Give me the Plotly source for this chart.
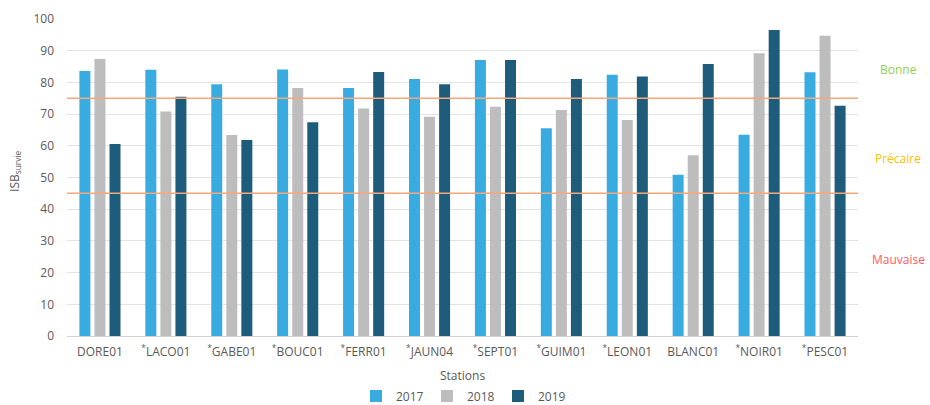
import plotly.graph_objects as go

# Stations (asterisk marks flagged stations)
stations = ["DORE01", "<sup>*</sup>LACO01", "<sup>*</sup>GABE01", "<sup>*</sup>BOUC01",
            "<sup>*</sup>FERR01", "<sup>*</sup>JAUN04", "<sup>*</sup>SEPT01", "<sup>*</sup>GUIM01",
            "<sup>*</sup>LEON01", "BLANC01", "<sup>*</sup>NOIR01", "<sup>*</sup>PESC01"]

isb_2017 = [83.6, 84.0, 79.4, 84.1, 78.2, 81.1, 87.1, 65.5, 82.4, 50.9, 63.5, 83.2]
isb_2018 = [87.4, 70.8, 63.4, 78.2, 71.8, 69.2, 72.3, 71.3, 68.1, 57.0, 89.2, 94.7]
isb_2019 = [60.6, 75.5, 61.8, 67.4, 83.3, 79.4, 87.1, 81.1, 81.9, 85.8, 96.5, 72.6]

years = ["2017", "2018", "2019"]
colors = ["#38ABE0", "#BDBDBD", "#1E5C7B"]

# Class thresholds and labels
thresholds = [75, 45]
class_labels = ["Bonne", "Précaire", "Mauvaise"]
class_label_y = [84, 56, 24]
class_colors = ["#92D050", "#FFC000", "#FF5B5B"]

font_family = "Open Sans, Noto Sans, sans-serif"
text_gray = "#595959"

fig = go.Figure()
for year, vals, col in zip(years, [isb_2017, isb_2018, isb_2019], colors):
    fig.add_trace(go.Bar(x=stations, y=vals, name=year, marker_color=col,
                         marker_line_width=0))

for t in thresholds:
    fig.add_shape(type="line", xref="paper", yref="y", x0=0, x1=1, y0=t, y1=t,
                  line=dict(color="#F7A77A", width=1.5), layer="above")

for lab, yy, col in zip(class_labels, class_label_y, class_colors):
    fig.add_annotation(text=lab, xref="paper", yref="y", x=1.051, y=yy,
                       xanchor="center", yanchor="middle", showarrow=False,
                       font=dict(color=col, size=12, family=font_family))

fig.add_annotation(text="ISB<sub>survie</sub>", xref="paper", yref="paper",
                   x=-0.066, y=0.52, textangle=-90, showarrow=False,
                   xanchor="center", yanchor="middle",
                   font=dict(color=text_gray, size=12, family=font_family))

fig.add_annotation(text="Stations", xref="paper", yref="paper",
                   x=0.5, y=-0.125, showarrow=False,
                   xanchor="center", yanchor="middle",
                   font=dict(color=text_gray, size=12, family=font_family))

fig.update_layout(
    width=930, height=405,
    margin=dict(l=67, r=72, t=19, b=69, autoexpand=False),
    plot_bgcolor="white", paper_bgcolor="white",
    barmode="group", bargap=0.315, bargroupgap=0.27,
    font=dict(family=font_family, color=text_gray, size=12),
    showlegend=True,
    legend=dict(orientation="h", x=0.5, xanchor="center",
                yref="container", y=0.022, yanchor="middle",
                font=dict(size=12, color=text_gray),
                entrywidth=26, entrywidthmode="pixels",
                itemwidth=30, tracegroupgap=0),
    xaxis=dict(showgrid=False, showline=False, ticks="", automargin=False,
               ticklabelstandoff=7,
               tickfont=dict(size=12, color=text_gray)),
    yaxis=dict(range=[0, 100], dtick=10, showgrid=True, gridcolor="#E3E3E3",
               gridwidth=1, zeroline=True, zerolinecolor="#D0D0D0",
               zerolinewidth=1, ticks="", automargin=False,
               ticklabelstandoff=12,
               tickfont=dict(size=12, color=text_gray)),
)

fig.write_html("out.html")
